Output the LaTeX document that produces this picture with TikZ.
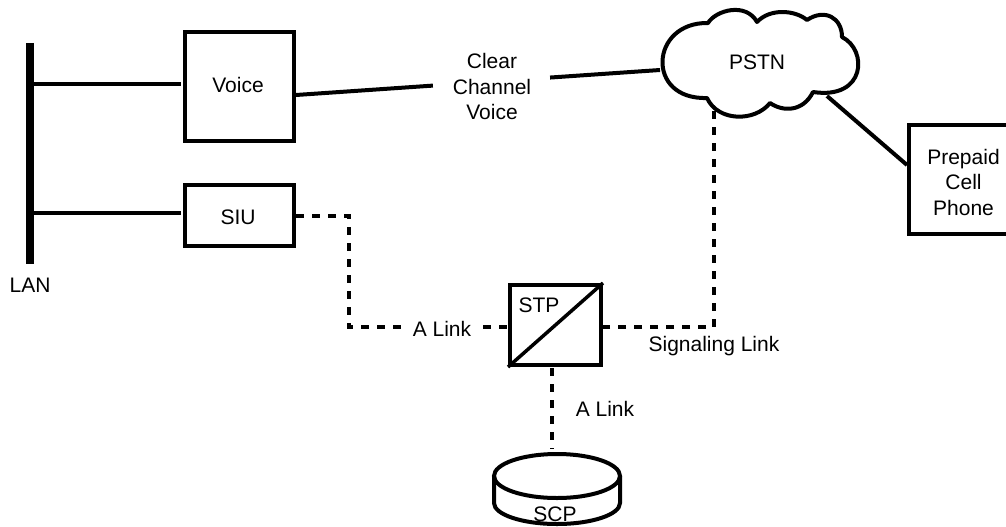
\documentclass[tikz,border=0pt]{standalone}
\usepackage{fontspec}
\setmainfont{Liberation Sans}
\usepackage{tikz}
\usetikzlibrary{calc, shapes, positioning}
\tikzset{
    boxnode/.style = {draw, rectangle, line width=4pt, inner sep = 0em, node distance=0em, minimum width=109pt},
    textnode/.style = {draw=none, fill=none, rectangle, inner sep = 0em, node distance=0em},
    ellipsenode/.style = {draw, ellipse, line width=4pt, inner sep = 0em, outer sep=0pt, node distance=0em, minimum width=126pt, minimum height=44pt},
    solidlink/.style = {black, line width=3.5pt},
    signallink/.style = {black, line width=4.5pt, dash pattern=on 8pt off 8pt},
    every text node part/.style={align=center},
    every node/.style={font=\fontsize{21}{25.5}\selectfont}
}
\begin{document}
\begin{tikzpicture}[x=1pt, y=-1pt]
    \useasboundingbox (0,0) rectangle (1006,527);

    % bus
    \coordinate (bustop) at (30,43);
    \coordinate (busend) at (30,264);
    \draw [line width=8pt] (bustop) -- (busend);
    \node [name=lan, textnode, below of = busend, yshift=-21pt] {LAN};

    \node [name=voice, boxnode, minimum height=109pt] at (239.5,86.5) {};
    \node [name=siu, boxnode, minimum height=61pt, below of = voice, yshift=-129pt] {};
    \node [name=voicetext, textnode, right of = voice, xshift=-1.5pt, yshift=1.5pt] {Voice};
    \node [name=siutext, textnode, right of = siu, xshift=-1.5pt, yshift=-1.5pt] {SIU};

    \coordinate (tapa) at (30,84);
    \coordinate (tapb) at (30,213);
    \draw [solidlink] (tapa) -- (181,84);
    \draw [solidlink] (tapb) -- (181,213);

    % cloud
    \draw [line width=4pt, line join=round]
        (708,23) .. controls (716,10) and (746,2) .. (757,22)
        .. controls (770,8) and (795,10) .. (807,20)
        .. controls (825,8) and (842,18) .. (842,37)
        .. controls (868,50) and (866,100) .. (813,92)
        .. controls (803,112) and (783,112) .. (770,103)
        .. controls (755,122) and (718,122) .. (707,98)
        .. controls (645,100) and (650,22) .. cycle;
    \node [name=pstn, textnode] at (757,62) {PSTN};

    \node [name=phone, boxnode, minimum height=109pt] at (963.5,179.5) {};
    \node [name=phonetext, textnode, right of = phone, yshift=-2.5pt] {Prepaid\\Cell\\Phone};

    \node [name=stp, boxnode, minimum width=91pt, minimum height=80pt] at (555.5,325) {};
    \node [name=stptext, textnode] at (539,305) {STP};
    \draw [solidlink] (stp.south west) -- (stp.north east);

    % scp
    \node [name=scptop, ellipsenode] at (557,476) {};
    \draw [line width=4pt] (scptop.west) -- ++(0,27) arc [start angle=180, end angle=360, x radius=63, y radius=-21] -- (scptop.east);
    \node [name=scp, textnode] at (555,514) {SCP};

    % voice path
    \node [name=clear, textnode] at (492,86.5) {Clear\\Channel\\Voice};
    \coordinate (voiceout) at (296,95);
    \coordinate (cloudin) at (660,70);
    \draw [line width=4pt] (voiceout) -- ($(voiceout)!0.376!(cloudin)$);
    \draw [line width=4pt] ($(voiceout)!0.698!(cloudin)$) -- (cloudin);
    \draw [line width=4pt] (827,96) -- (907,165);

    % signalling
    \node [name=alinka, textnode] at (442,329) {A Link};
    \node [name=alinkb, textnode] at (605,409) {A Link};
    \node [name=siglink, textnode] at (714,346) {Signaling Link};
    \coordinate (bend) at (714,327);
    \draw [signallink] (714,111) -- (bend) -- (stp.east |- bend);
    \draw [signallink] (siu.east |- 0,216) -- (349,216) -- (349,327) -- (402,327);
    \draw [signallink] (483,327) -- (stp.west |- 0,327);
    \draw [signallink] (552,368) -- (552,449);
\end{tikzpicture}
\end{document}
